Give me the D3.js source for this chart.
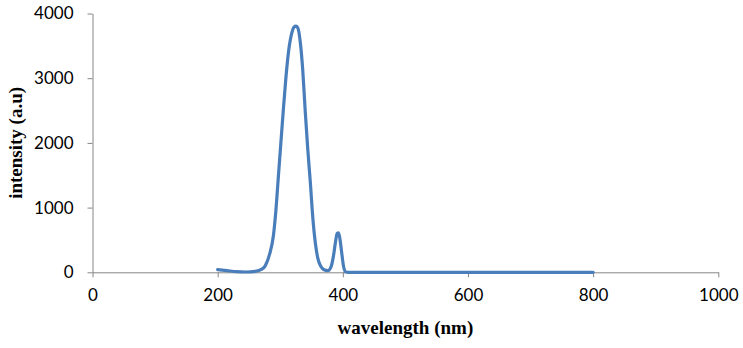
<!DOCTYPE html>
<html>
<head>
<meta charset="utf-8">
<script src="https://cdn.jsdelivr.net/npm/d3@7"></script>
<style>
  body { margin: 0; background: #fff; }
  svg { display: block; }
</style>
</head>
<body>
<div id="chart"></div>
<script>
// spectrum
const wavelength = [200, 215, 230, 245, 260, 270, 276, 283, 289, 293, 297, 301, 305, 309, 313, 318, 322, 325, 328, 332, 336, 340, 344, 348, 352, 356, 360, 365, 370, 376, 381, 385, 388, 391, 393, 395, 398, 401, 404, 410, 450, 500, 600, 700, 800]
const intensity = [40, 25, 10, 5, 15, 45, 100, 280, 560, 950, 1480, 2000, 2520, 3000, 3390, 3680, 3790, 3805, 3780, 3560, 3120, 2480, 1900, 1400, 850, 460, 220, 90, 40, 25, 80, 250, 450, 600, 610, 540, 320, 100, 10, 0, 0, 0, 0, 0, 0]
const xTicks = [0, 200, 400, 600, 800, 1000]
const yTicks = [0, 1000, 2000, 3000, 4000]

const width = 743, height = 348
const margin = { top: 13.5, right: 24.7, bottom: 75.7, left: 92.5 }
const innerWidth = width - margin.left - margin.right
const innerHeight = height - margin.top - margin.bottom

const data = wavelength.map((w, i) => ({ w: w, v: intensity[i] }))

const svg = d3.select("#chart").append("svg")
  .attr("width", width)
  .attr("height", height)

const g = svg.append("g")
  .attr("transform", "translate(" + margin.left + "," + margin.top + ")")

const x = d3.scaleLinear().domain([0, 1000]).range([0, innerWidth])
const y = d3.scaleLinear().domain([0, 4000]).range([innerHeight, 0])

const axisColor = "#868686"
const tickFont = "Lato, 'Open Sans', sans-serif"
const titleFont = "'Liberation Serif', 'Times New Roman', serif"

// AXES
const xAxis = g.append("g")
  .attr("transform", "translate(0," + innerHeight + ")")
  .call(d3.axisBottom(x).tickValues(xTicks).tickFormat(d => d).tickSize(5).tickSizeOuter(0).tickPadding(12))
xAxis.select(".domain").attr("stroke", axisColor)
xAxis.selectAll("line").attr("stroke", axisColor)
xAxis.selectAll("text")
  .style("font-family", tickFont)
  .style("font-size", "17px")
  .attr("fill", "#000")

const yAxis = g.append("g")
  .call(d3.axisLeft(y).tickValues(yTicks).tickFormat(d => d).tickSize(5).tickSizeOuter(0).tickPadding(14))
yAxis.select(".domain").attr("stroke", axisColor)
yAxis.selectAll("line").attr("stroke", axisColor)
yAxis.selectAll("text")
  .style("font-family", tickFont)
  .style("font-size", "17px")
  .attr("fill", "#000")

// SMOOTH LINE
const line = d3.line()
  .x(d => x(d.w))
  .y(d => y(d.v))
  .curve(d3.curveMonotoneX)

g.append("path")
  .datum(data)
  .attr("d", line)
  .attr("fill", "none")
  .attr("stroke", "#4a7ebb")
  .attr("stroke-width", 3.2)
  .attr("stroke-linejoin", "round")
  .attr("stroke-linecap", "round")

// AXIS TITLES
g.append("text")
  .attr("x", innerWidth / 2)
  .attr("y", innerHeight + 62)
  .attr("text-anchor", "middle")
  .style("font-family", titleFont)
  .style("font-size", "19px")
  .style("font-weight", "bold")
  .text("wavelength (nm)")

g.append("text")
  .attr("transform", "rotate(-90)")
  .attr("x", -innerHeight / 2)
  .attr("y", -71)
  .attr("text-anchor", "middle")
  .style("font-family", titleFont)
  .style("font-size", "19px")
  .style("font-weight", "bold")
  .text("intensity  (a.u)")
</script>
</body>
</html>
